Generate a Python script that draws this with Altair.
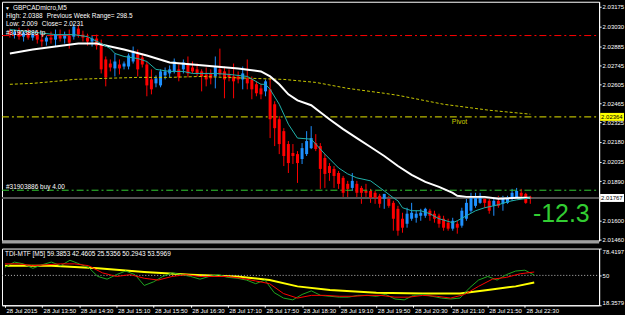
import altair as alt
import pandas as pd

# ---------------- texts ----------------
symbol_title = "GBPCADmicro,M5"
info_high = "High: 2.0388"
info_range = "Previous Week Range= 298.5"
info_low = "Low:  2.009"
info_close = "Close= 2.0231"
tp_text = "#31903886 tp"
order_text = "#31903886 buy 4.00"
pivot_text = "Pivot"
pips_text = "-12.3"
tdi_label = "TDI-MTF [M5] 59.3853 42.4605 25.5356 50.2943 53.5969"

# ---------------- candles (M5 bars from 28 Jul 13:10) ----------------
open_ = [2.02992, 2.02970, 2.02992, 2.02955, 2.02985, 2.02948, 2.02970, 2.02933, 2.02919, 2.02948,
         2.02933, 2.02970, 2.02941, 2.02963, 2.02955, 2.03014, 2.02970, 2.02948, 2.02919, 2.02941,
         2.02904, 2.02787, 2.02757, 2.02721, 2.02750, 2.02735, 2.02735, 2.02772, 2.02831, 2.02801,
         2.02750, 2.02640, 2.02611, 2.02596, 2.02670, 2.02684, 2.02699, 2.02714, 2.02714, 2.02757,
         2.02728, 2.02714, 2.02699, 2.02677, 2.02684, 2.02662, 2.02714, 2.02699, 2.02677, 2.02662,
         2.02662, 2.02640, 2.02648, 2.02640, 2.02604, 2.02574, 2.02552, 2.02567, 2.02457, 2.02347,
         2.02259, 2.02164, 2.02098, 2.02090, 2.02054, 2.02090, 2.02134, 2.02171, 2.02149, 2.02061,
         2.02002, 2.01981, 2.01951, 2.01915, 2.01871, 2.01841, 2.01871, 2.01841, 2.01819, 2.01819,
         2.01805, 2.01783, 2.01761, 2.01761, 2.01731, 2.01687, 2.01614, 2.01577, 2.01614, 2.01621,
         2.01636, 2.01636, 2.01673, 2.01651, 2.01636, 2.01614, 2.01585, 2.01541, 2.01577, 2.01563,
         2.01614, 2.01673, 2.01709, 2.01731, 2.01761, 2.01746, 2.01709, 2.01746, 2.01724, 2.01731,
         2.01761, 2.01768, 2.01805, 2.01797, 2.01775]
high = [2.03014, 2.03007, 2.03021, 2.02992, 2.03014, 2.02985, 2.02999, 2.02977, 2.02963, 2.02992,
        2.03007, 2.03007, 2.02992, 2.03007, 2.03051, 2.03036, 2.02999, 2.02977, 2.02963, 2.02970,
        2.02933, 2.02809, 2.02787, 2.02831, 2.02787, 2.02772, 2.02831, 2.02882, 2.02860, 2.02831,
        2.02772, 2.02714, 2.02670, 2.02714, 2.02728, 2.02743, 2.02794, 2.02750, 2.02787, 2.02809,
        2.02772, 2.02757, 2.02714, 2.02728, 2.02714, 2.02809, 2.02867, 2.02735, 2.02714, 2.02757,
        2.02699, 2.02735, 2.02787, 2.02662, 2.02626, 2.02604, 2.02640, 2.02648, 2.02479, 2.02369,
        2.02281, 2.02186, 2.02164, 2.02112, 2.02171, 2.02259, 2.02296, 2.02237, 2.02171, 2.02090,
        2.02024, 2.02002, 2.01966, 2.01929, 2.01893, 2.01951, 2.01893, 2.01856, 2.01871, 2.01834,
        2.01819, 2.01797, 2.01797, 2.01783, 2.01746, 2.01709, 2.01658, 2.01695, 2.01731, 2.01673,
        2.01687, 2.01695, 2.01687, 2.01673, 2.01651, 2.01636, 2.01614, 2.01621, 2.01599, 2.01695,
        2.01761, 2.01805, 2.01805, 2.01805, 2.01768, 2.01761, 2.01768, 2.01783, 2.01783, 2.01783,
        2.01834, 2.01841, 2.01834, 2.01805, 2.01783]
low = [2.02948, 2.02941, 2.02933, 2.02919, 2.02933, 2.02926, 2.02904, 2.02882, 2.02889, 2.02904,
       2.02882, 2.02919, 2.02904, 2.02867, 2.02933, 2.02948, 2.02919, 2.02889, 2.02882, 2.02860,
       2.02684, 2.02589, 2.02699, 2.02662, 2.02677, 2.02714, 2.02714, 2.02757, 2.02662, 2.02728,
       2.02516, 2.02530, 2.02582, 2.02582, 2.02640, 2.02655, 2.02684, 2.02626, 2.02684, 2.02655,
       2.02684, 2.02662, 2.02552, 2.02589, 2.02604, 2.02574, 2.02662, 2.02501, 2.02626, 2.02501,
       2.02611, 2.02567, 2.02567, 2.02494, 2.02516, 2.02494, 2.02516, 2.02208, 2.02149, 2.02090,
       2.02002, 2.01951, 2.02017, 2.01878, 2.02017, 2.02076, 2.02127, 2.02112, 2.01834, 2.01841,
       2.01893, 2.01841, 2.01834, 2.01761, 2.01761, 2.01819, 2.01768, 2.01724, 2.01768, 2.01731,
       2.01724, 2.01695, 2.01687, 2.01695, 2.01526, 2.01489, 2.01511, 2.01548, 2.01599, 2.01585,
       2.01599, 2.01621, 2.01599, 2.01585, 2.01548, 2.01526, 2.01526, 2.01526, 2.01504, 2.01548,
       2.01599, 2.01658, 2.01695, 2.01724, 2.01695, 2.01651, 2.01636, 2.01695, 2.01673, 2.01724,
       2.01746, 2.01761, 2.01768, 2.01724, 2.01724]
close = [2.02970, 2.02992, 2.02955, 2.02985, 2.02948, 2.02970, 2.02933, 2.02919, 2.02948, 2.02933,
         2.02970, 2.02941, 2.02963, 2.02911, 2.03029, 2.02970, 2.02948, 2.02919, 2.02941, 2.02889,
         2.02714, 2.02655, 2.02728, 2.02772, 2.02721, 2.02757, 2.02816, 2.02845, 2.02714, 2.02750,
         2.02596, 2.02567, 2.02648, 2.02699, 2.02699, 2.02714, 2.02772, 2.02655, 2.02765, 2.02684,
         2.02699, 2.02684, 2.02662, 2.02640, 2.02648, 2.02735, 2.02677, 2.02640, 2.02655, 2.02626,
         2.02640, 2.02684, 2.02611, 2.02567, 2.02538, 2.02530, 2.02626, 2.02347, 2.02281, 2.02164,
         2.02076, 2.02024, 2.02076, 2.02024, 2.02134, 2.02186, 2.02208, 2.02127, 2.01981, 2.01944,
         2.01951, 2.01929, 2.01871, 2.01805, 2.01834, 2.01893, 2.01805, 2.01805, 2.01805, 2.01768,
         2.01768, 2.01724, 2.01797, 2.01709, 2.01614, 2.01526, 2.01548, 2.01651, 2.01658, 2.01651,
         2.01658, 2.01687, 2.01636, 2.01614, 2.01577, 2.01548, 2.01541, 2.01599, 2.01548, 2.01673,
         2.01731, 2.01768, 2.01768, 2.01783, 2.01731, 2.01673, 2.01746, 2.01709, 2.01768, 2.01768,
         2.01805, 2.01819, 2.01783, 2.01731, 2.01767]

# ---------------- moving averages (bar index -> price) ----------------
white_idx = [0, 5, 10, 15, 19, 22, 25, 30, 35, 40, 45, 50, 55, 57, 59, 61, 63, 66, 68,
             70, 73, 76, 79, 82, 85, 88, 91, 94, 97, 98, 100, 104, 107, 111, 114]
white_val = [2.02831, 2.02860, 2.02882, 2.02904, 2.02904, 2.02882, 2.02860, 2.02816, 2.02765,
             2.02750, 2.02735, 2.02721, 2.02699, 2.02662, 2.02604, 2.02530, 2.02486, 2.02450, 2.02398,
             2.02347, 2.02274, 2.02208, 2.02142, 2.02076, 2.02002, 2.01937, 2.01885, 2.01849, 2.01805,
             2.01783, 2.01775, 2.01775, 2.01761, 2.01768, 2.01768]
cyan_idx = [0, 4, 10, 14, 17, 20, 22, 23, 25, 28, 30, 32, 35, 38, 40, 42, 45, 48, 52,
            55, 56, 57, 59, 61, 63, 66, 67, 69, 72, 74, 76, 79, 82, 84, 85, 86, 88, 90, 92,
            94, 97, 98, 100, 102, 104, 107, 109, 111, 114]
cyan_val = [2.03007, 2.02992, 2.02970, 2.02970, 2.02955, 2.02904, 2.02867, 2.02831, 2.02809,
            2.02794, 2.02772, 2.02714, 2.02699, 2.02699, 2.02684, 2.02684, 2.02684, 2.02677, 2.02662,
            2.02604, 2.02604, 2.02567, 2.02457, 2.02310, 2.02208, 2.02200, 2.02164, 2.02090, 2.01988,
            2.01944, 2.01915, 2.01893, 2.01819, 2.01768, 2.01746, 2.01695, 2.01673, 2.01673, 2.01651,
            2.01614, 2.01585, 2.01599, 2.01636, 2.01673, 2.01695, 2.01717, 2.01739, 2.01753, 2.01768]
slow_idx = [0, 5, 10, 14, 21, 28, 35, 42, 47, 53, 60, 67, 74, 82, 85, 95, 105, 114]
slow_val = [2.02604, 2.02611, 2.02626, 2.02640, 2.02648, 2.02655, 2.02655, 2.02662, 2.02655, 2.02648,
            2.02640, 2.02618, 2.02574, 2.02538, 2.02523, 2.02457, 2.02413, 2.02384]

# ---------------- levels ----------------
tp_price = 2.02963
pivot_price = 2.02364
buy_price = 2.01824
last_price = 2.01767

price_ticks = [2.03175, 2.03030, 2.02885, 2.02745, 2.02605, 2.02465, 2.02325, 2.02180,
               2.02035, 2.01890, 2.01600, 2.01460]
time_ticks = [0, 8, 16, 24, 32, 40, 48, 56, 64, 72, 80, 88, 96, 104, 112]
time_labels = ["28 Jul 2015", "28 Jul 13:50", "28 Jul 14:30", "28 Jul 15:10", "28 Jul 15:50",
               "28 Jul 16:30", "28 Jul 17:10", "28 Jul 17:50", "28 Jul 18:30", "28 Jul 19:10",
               "28 Jul 19:50", "28 Jul 20:30", "28 Jul 21:10", "28 Jul 21:50", "28 Jul 22:30"]

# ---------------- TDI sub window ----------------
tdi_green_idx = list(range(0, 115, 2))
tdi_green = [58.41, 64.13, 62.22, 57.46, 61.27, 64.13, 60.31, 66.03, 62.22, 58.41,
             48.88, 46.02, 50.78, 54.60, 50.78, 39.35, 43.16, 48.88, 52.69, 50.78,
             48.88, 46.02, 48.88, 50.78, 47.92, 46.97, 45.07, 41.25, 45.07, 31.72,
             26.00, 24.10, 29.82, 33.63, 28.86, 27.91, 26.96, 26.96, 28.86, 28.86,
             27.91, 29.82, 25.05, 24.10, 28.86, 29.82, 27.91, 26.00, 25.05, 26.00,
             36.49, 45.07, 48.88, 45.07, 50.78, 54.60, 55.55, 50.29]
tdi_red_idx = list(range(0, 115, 3))
tdi_red = [62.22, 62.22, 60.31, 61.27, 62.22, 62.22, 60.31, 52.69, 48.88, 50.78,
           46.97, 45.07, 48.88, 50.78, 48.88, 48.88, 48.88, 46.97, 44.11, 41.25,
           30.77, 26.00, 28.86, 28.86, 27.91, 27.91, 28.86, 28.86, 26.96, 26.96,
           28.86, 27.91, 26.00, 29.82, 38.39, 46.02, 47.92, 51.74, 53.60]
tdi_yellow_idx = [0, 10, 20, 30, 40, 50, 57, 63, 70, 80, 90, 98, 104, 110, 114]
tdi_yellow = [60.31, 60.31, 57.46, 53.64, 50.78, 48.88, 45.07, 38.39, 34.58, 31.72,
              30.77, 30.77, 34.58, 38.39, 42.46]
tdi_ticks = [18.3579, 50, 78.4197]

# ---------------- chart ----------------
FONT = "Liberation Sans"
W, H_MAIN, H_SUB = 600, 240, 57
xs = alt.Scale(domain=[-0.64, 127.98], nice=False, zero=False)
ys = alt.Scale(domain=[2.01453, 2.03212], nice=False, zero=False)
ts = alt.Scale(domain=[18.3579, 78.4197], nice=False, zero=False)

bars = pd.DataFrame({"i": list(range(len(close))), "open": open_, "high": high,
                     "low": low, "close": close})
bars["dir"] = ["up" if c >= o else "down" for o, c in zip(open_, close)]
cscale = alt.Scale(domain=["up", "down"], range=["#1e90ff", "#ff0000"])

y_axis = alt.Axis(orient="right", values=price_ticks, format=".5f", labelColor="white",
                  labelFontSize=6, labelFont=FONT, tickColor="white", tickSize=2,
                  domainColor="white", labelPadding=1, title=None, grid=False,
                  labelOverlap=False)
label_expr = "[" + ",".join(f"'{t}'" for t in time_labels) + "][round(datum.value / 8)]"
x_axis = alt.Axis(values=time_ticks, labelExpr=label_expr, labelAlign="left", labelColor="white",
                  labelFontSize=6, labelFont=FONT, tickColor="white", tickSize=2,
                  domainColor="white", labelPadding=0, labelOffset=1, title=None, grid=False,
                  labelOverlap=False, labelFlush=False, labelBound=False)
sub_axis = alt.Axis(orient="right", values=tdi_ticks, format=".4~f", labelFlush=True,
                    labelColor="white", labelFontSize=6, labelFont=FONT, tickColor="white",
                    tickSize=2, domainColor="white", labelPadding=1, title=None, grid=False,
                    labelOverlap=False)

XM = alt.X("i:Q", scale=xs, axis=None)


def YM(field):
    return alt.Y(field, scale=ys, axis=y_axis)


wicks = alt.Chart(bars).mark_rule(strokeWidth=1).encode(
    x=XM, y=YM("low:Q"), y2="high:Q",
    color=alt.Color("dir:N", scale=cscale, legend=None))
bodies = alt.Chart(bars).mark_bar(size=3).encode(
    x=XM, y=YM("open:Q"), y2="close:Q",
    color=alt.Color("dir:N", scale=cscale, legend=None))


def ma_line(idx, vals, color, width, dash=None):
    df = pd.DataFrame({"i": idx, "v": vals})
    kw = dict(color=color, strokeWidth=width)
    if dash:
        kw["strokeDash"] = dash
    return alt.Chart(df).mark_line(**kw).encode(x=XM, y=YM("v:Q"))


def hline(price, color, width, yenc, dash=None):
    df = pd.DataFrame({"p": [price]})
    kw = dict(color=color, strokeWidth=width)
    if dash:
        kw["strokeDash"] = dash
    return alt.Chart(df).mark_rule(**kw).encode(
        y=yenc, x=alt.value(0), x2=alt.value(W))


def label(txt, x, y, size=6, color="white", align="left"):
    return alt.Chart(pd.DataFrame({"t": [txt]})).mark_text(
        align=align, baseline="middle", fontSize=size, color=color, font=FONT).encode(
        x=alt.value(x), y=alt.value(y), text="t:N")


def price_box(price, bg, fg):
    df = pd.DataFrame({"p": [price], "t": [f"{price:.5f}"]})
    box = alt.Chart(df).mark_tick(orient="horizontal", size=24, thickness=8, color=bg,
                                  opacity=1).encode(x=alt.value(613), y=YM("p:Q"))
    txt = alt.Chart(df).mark_text(align="left", baseline="middle", fontSize=6, color=fg,
                                  font=FONT).encode(x=alt.value(602), y=YM("p:Q"), text="t:N")
    return [box, txt]


sep = alt.Chart(pd.DataFrame({"a": [0]})).mark_rule(color="#a0a0a0", strokeWidth=3).encode(
    x=alt.value(0), x2=alt.value(W), y=alt.value(H_MAIN + 1.5))

main = alt.layer(
    wicks,
    hline(tp_price, "#ff0000", 1, YM("p:Q"), [7, 3, 2, 3]),
    hline(pivot_price, "#e6e600", 1, YM("p:Q"), [7, 3, 2, 3]),
    hline(buy_price, "#33cc33", 1, YM("p:Q"), [7, 3, 2, 3]),
    hline(last_price, "#555555", 2, YM("p:Q")),
    bodies,
    ma_line(slow_idx, slow_val, "#c8c800", 1, [3, 2]),
    ma_line(white_idx, white_val, "white", 2),
    ma_line(cyan_idx, cyan_val, "#20b2aa", 1),
    label("\u25bc", 3, 6, size=5),
    label(symbol_title, 11, 6, size=6.5),
    label(info_high, 4, 14, size=6.5),
    label(info_range, 45, 14, size=6.5),
    label(info_low, 4, 22, size=6.5),
    label(info_close, 40, 22, size=6.5),
    label(tp_text, 4, 31, size=6.5),
    label(order_text, 4, 186, size=6.5),
    label(pivot_text, 452, 121, size=7, color="#cccc00"),
    label(pips_text, 562, 213, size=25, color="#32cd32", align="center"),
    *price_box(pivot_price, "#ffff00", "black"),
    *price_box(last_price, "white", "black"),
    sep,
).properties(width=W, height=H_MAIN)

XS = alt.X("i:Q", scale=xs, axis=x_axis)


def YS(f):
    return alt.Y(f, scale=ts, axis=sub_axis)


def tdi_line(idx, vals, color, width):
    df = pd.DataFrame({"i": idx, "v": vals})
    return alt.Chart(df).mark_line(color=color, strokeWidth=width).encode(
        x=XS, y=YS("v:Q"))


sub = alt.layer(
    tdi_line(tdi_yellow_idx, tdi_yellow, "#ffff00", 2),
    hline(50, "#bbbbbb", 1, YS("p:Q"), [1, 2]),
    tdi_line(tdi_green_idx, tdi_green, "#1fa51f", 1),
    tdi_line(tdi_red_idx, tdi_red, "#ff0000", 1),
    label(tdi_label, 3, 5, size=6.5),
).properties(width=W, height=H_SUB)

chart = alt.vconcat(main, sub, spacing=3).properties(
    padding=0, background="black"
).configure_view(stroke="white", strokeWidth=1).configure_axis(grid=False)

chart.save("out.html", embed_options={"renderer": "svg", "actions": False})
